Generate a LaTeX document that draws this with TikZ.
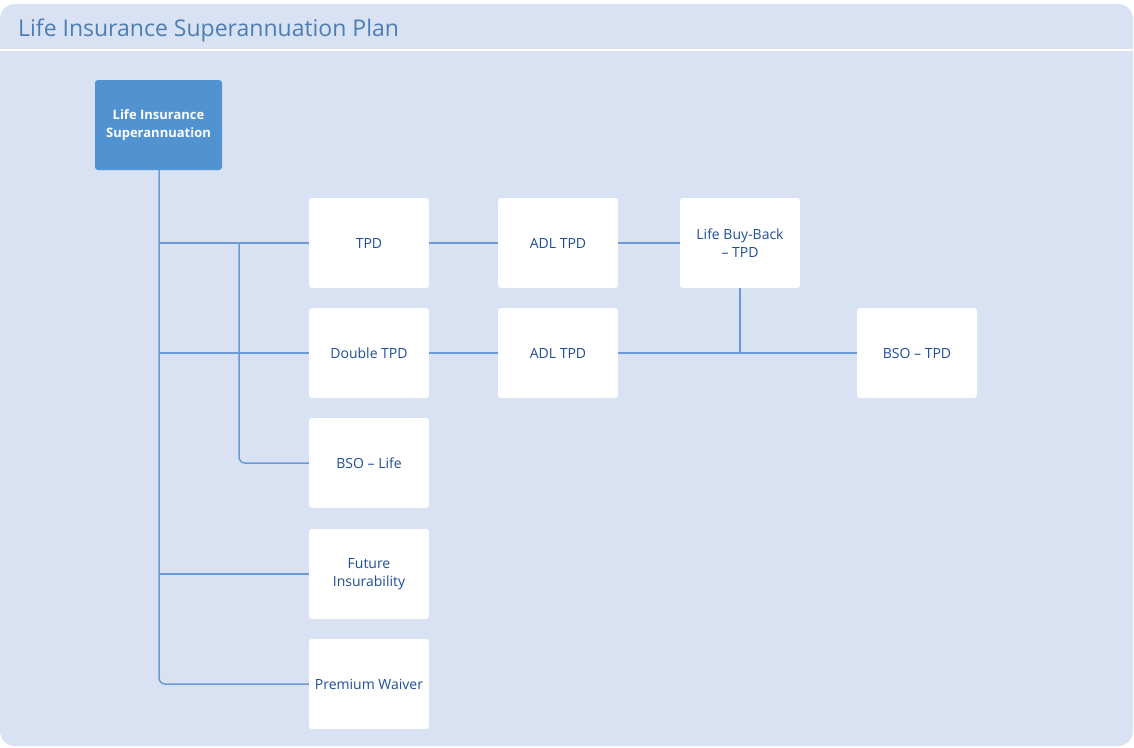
\documentclass[tikz,border=0pt]{standalone}
\usepackage{fontspec}
\setmainfont{Open Sans}
\definecolor{panel}{HTML}{D9E2F3}
\definecolor{rootfill}{HTML}{5192D0}
\definecolor{linec}{HTML}{6A9BD8}
\definecolor{txt}{HTML}{1F4E9A}
\definecolor{titlec}{HTML}{4A7EB5}
\tikzset{
  leaf/.style={draw=none, fill=white, rounded corners=3pt, minimum width=120pt, minimum height=90pt, inner sep=0pt, text=txt, font=\fontsize{14}{18}\selectfont, align=center},
  rootbox/.style={draw=none, fill=rootfill, rounded corners=3pt, minimum width=127pt, minimum height=90pt, inner sep=0pt, text=white, font=\fontsize{13}{18}\selectfont\bfseries, align=center},
  conn/.style={draw=linec, line width=1.5pt},
}
\begin{document}
\begin{tikzpicture}[x=1pt,y=-1pt]
\useasboundingbox (0,0) rectangle (1134,747);
\fill[white] (0,0) rectangle (1134,747);
\fill[panel, rounded corners=15pt] (0,4) rectangle (1133,746);
\fill[white] (0,48.5) rectangle (1133,51);
\node[anchor=base west, text=titlec, font=\fontsize{23}{26}\selectfont, inner sep=0pt] (title) at (18,36) {Life Insurance Superannuation Plan};

\node[rootbox] (root) at (158.5,125) {Life Insurance\\Superannuation};
\node[leaf] (tpd) at (369,243) {TPD};
\node[leaf] (adl1) at (558,243) {ADL TPD};
\node[leaf] (lbb) at (740,243) {Life Buy-Back\\– TPD};
\node[leaf] (dtpd) at (369,353) {Double TPD};
\node[leaf] (adl2) at (558,353) {ADL TPD};
\node[leaf] (bsotpd) at (917,353) {BSO – TPD};
\node[leaf] (bsolife) at (369,463) {BSO – Life};
\node[leaf] (future) at (369,574) {Future\\Insurability};
\node[leaf] (waiver) at (369,684) {Premium Waiver};

\coordinate (m1) at (159,243);
\coordinate (m2) at (239,243);
\begin{scope}[conn]
\draw[rounded corners=6pt] (root.south -| m1) -- (m1 |- waiver.west) -- (waiver.west);
\draw (m1) -- (tpd.west);
\draw (m1 |- dtpd.west) -- (dtpd.west);
\draw (m1 |- future.west) -- (future.west);
\draw[rounded corners=6pt] (m2) -- (m2 |- bsolife.west) -- (bsolife.west);
\draw (tpd.east) -- (adl1.west);
\draw (adl1.east) -- (lbb.west);
\draw (adl2.east) -- (bsotpd.west);
\draw (lbb.south) -- (lbb.south |- bsotpd.west);
\draw (dtpd.east) -- (adl2.west);
\end{scope}
\end{tikzpicture}
\end{document}
